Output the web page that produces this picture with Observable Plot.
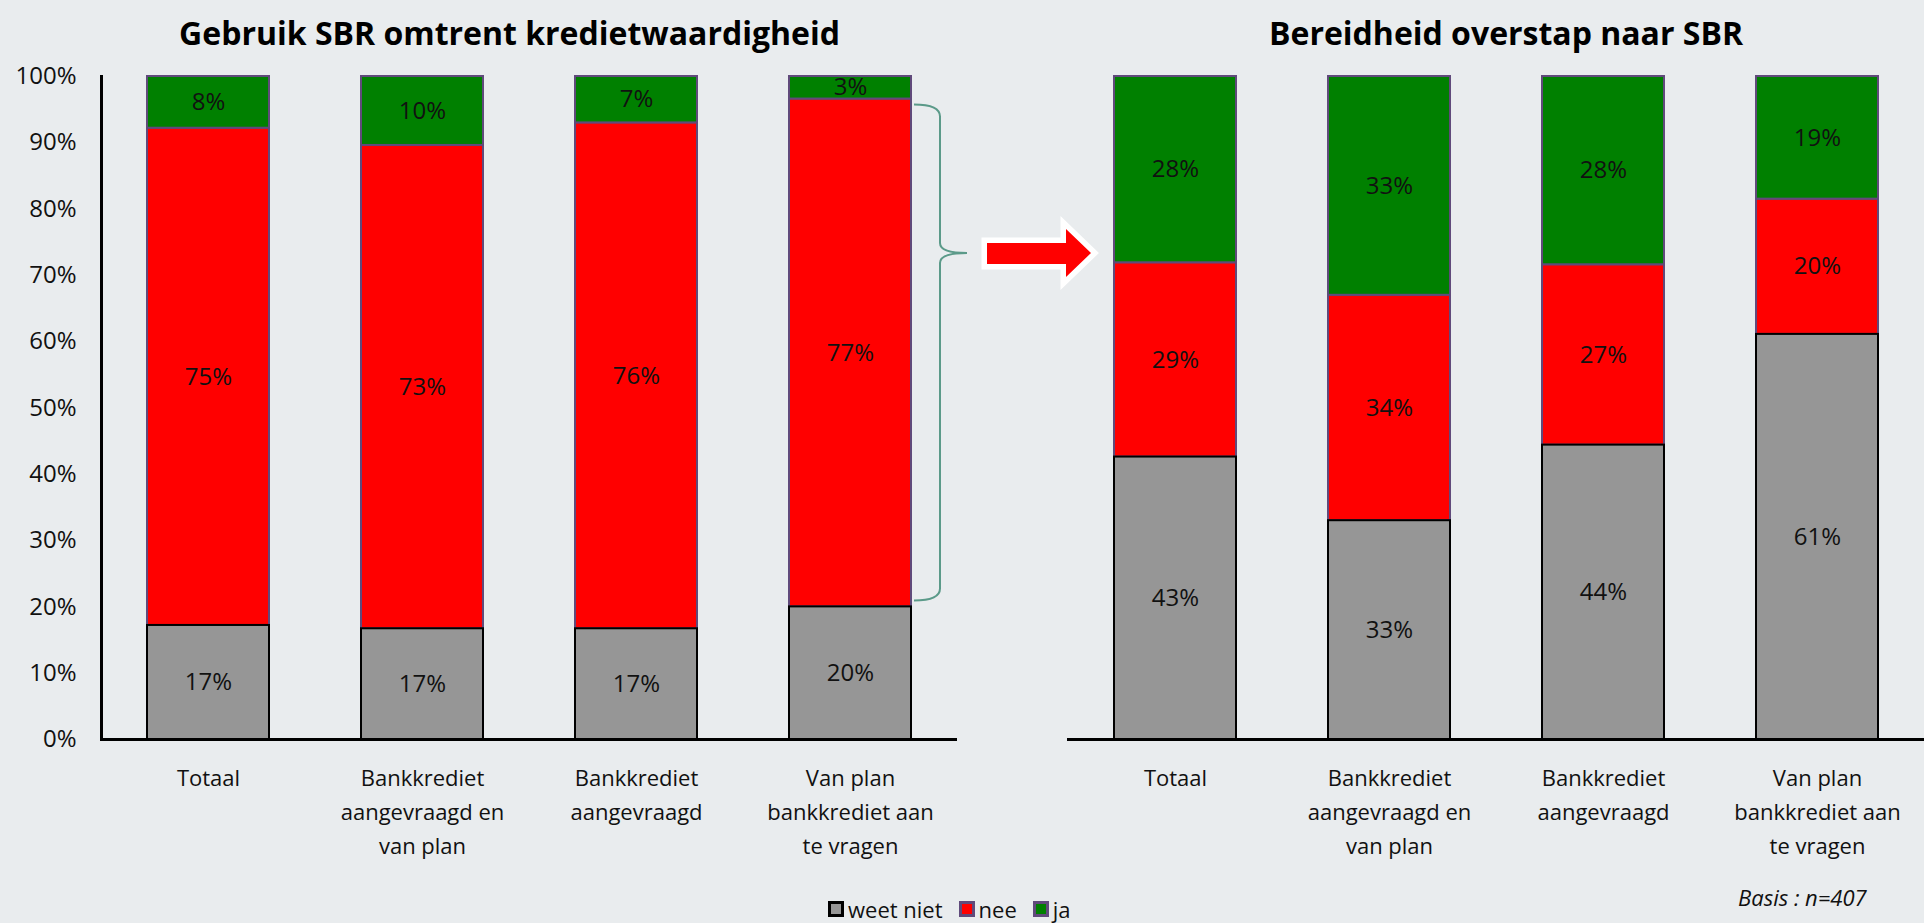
<!DOCTYPE html>
<html>
<head>
<meta charset="utf-8">
<script src="https://cdn.jsdelivr.net/npm/d3@7"></script>
<script src="https://cdn.jsdelivr.net/npm/@observablehq/plot@0.6"></script>
<style>
  html, body { margin: 0; padding: 0; background: #e9ecee; }
  #wrap { position: relative; width: 1924px; height: 923px; background: #e9ecee; font-family: "Open Sans", sans-serif; overflow: hidden; }
  #left, #right { position: absolute; top: 0; }
  #left { left: 0; }
  #right { left: 962px; }
  #overlay { position: absolute; left: 0; top: 0; pointer-events: none; }
  #legend { position: absolute; top: 896px; left: 828px; height: 26px; display: flex; align-items: center; font-size: 22px; line-height: 24px; color: #111; }
  #legend .item { display: flex; align-items: center; margin-right: 16px; }
  #legend .sw { width: 10px; height: 10px; border: 3px solid; margin-right: 4px; }
  #basis { position: absolute; top: 883px; left: 1738px; font-size: 22px; line-height: 28px; font-style: italic; color: #111; }
</style>
</head>
<body>
<div id="wrap">
  <div id="left"></div>
  <div id="right"></div>
  <svg id="overlay" width="1924" height="923"></svg>
  <div id="legend"></div>
  <div id="basis">Basis : n=407</div>
</div>
<script>
// ---- data ----
const categories = [
  "Totaal",
  "Bankkrediet aangevraagd en van plan",
  "Bankkrediet aangevraagd",
  "Van plan bankkrediet aan te vragen"
];
const categoryLabels = [
  "Totaal",
  "Bankkrediet\naangevraagd en\nvan plan",
  "Bankkrediet\naangevraagd",
  "Van plan\nbankkrediet aan\nte vragen"
];
const responses = ["weet niet", "nee", "ja"];
const responseColors = ["#969696", "#ff0000", "#008000"];
const responseBorders = ["#000000", "#604a7b", "#604a7b"];

const titleGebruik = "Gebruik SBR omtrent kredietwaardigheid";
const gebruikWeetNiet = [17.2, 16.7, 16.7, 20.0];
const gebruikNee      = [75.0, 72.9, 76.3, 76.6];
const gebruikJa       = [7.8, 10.4, 7.0, 3.4];

const titleBereid = "Bereidheid overstap naar SBR";
const bereidWeetNiet = [42.6, 33.0, 44.4, 61.1];
const bereidNee      = [29.3, 34.0, 27.2, 20.4];
const bereidJa       = [28.1, 33.0, 28.4, 18.5];

const yTicks = [0, 10, 20, 30, 40, 50, 60, 70, 80, 90, 100];
const basisText = "Basis : n=407";

// brace covers the "nee" segment of the last left bar; arrow level
const braceTop = 96.6, braceBottom = 20.0, arrowLevel = 73.3;

// ---- helpers ----
function rowsFrom(weetNiet, nee, ja) {
  const series = [weetNiet, nee, ja];
  const rows = [];
  responses.forEach((r, ri) => {
    categories.forEach((c, ci) => rows.push({cat: c, resp: r, value: series[ri][ci]}));
  });
  return rows;
}
const labelOf = c => categoryLabels[categories.indexOf(c)];

function chart(rows, title, showY, marginLeft, marginRight, titleDx) {
  const marks = [
    Plot.barY(rows, Plot.stackY({x: "cat", y: "value", z: "resp", fill: "resp", stroke: "#604a7b", strokeWidth: 2})),
    Plot.barY(rows.filter(d => d.resp === "weet niet"), {x: "cat", y: "value", fill: "#969696", stroke: "#000", strokeWidth: 2}),
    Plot.ruleY([0], {stroke: "#000", strokeWidth: 3}),
    Plot.text(rows, Plot.stackY({x: "cat", y: "value", z: "resp", text: d => Math.round(d.value) + "%", fontSize: 24, fill: "#111"})),
    Plot.axisX({tickSize: 0, tickPadding: 22, fontSize: 22, lineHeight: 1.55, tickFormat: labelOf, label: null, fill: "#111"}),
    Plot.text([title], {frameAnchor: "top", dy: -54, dx: titleDx, fontSize: 32, fontWeight: "bold", fill: "#000"})
  ];
  if (showY) {
    marks.push(Plot.axisY({ticks: yTicks, tickFormat: d => d + "%", tickSize: 0, tickPadding: 25, fontSize: 24, label: null, fill: "#111"}));
    marks.push(Plot.frame({anchor: "left", stroke: "#000", strokeWidth: 3}));
  }
  return Plot.plot({
    width: 962,
    height: 880,
    marginTop: 76,
    marginBottom: 141,
    marginLeft,
    marginRight,
    style: {background: "transparent", fontFamily: "Open Sans, sans-serif", overflow: "visible"},
    x: {domain: categories, paddingInner: 0.43, paddingOuter: 0.215, axis: null},
    y: {domain: [0, 100], axis: showY ? undefined : null},
    color: {domain: responses, range: responseColors},
    marks
  });
}

const left = chart(rowsFrom(gebruikWeetNiet, gebruikNee, gebruikJa), titleGebruik, true, 101, 5, -20);
const right = chart(rowsFrom(bereidWeetNiet, bereidNee, bereidJa), titleBereid, false, 105, 0, 10);
document.getElementById("left").appendChild(left);
document.getElementById("right").appendChild(right);

// ---- brace & arrow, positioned from the left chart's scales ----
const ys = left.scale("y"), xs = left.scale("x");
const barRight = xs.apply(categories[3]) + xs.bandwidth;
const yTop = ys.apply(braceTop) + 6, yBot = ys.apply(braceBottom) - 6, yTip = ys.apply(arrowLevel);
const x0 = barRight + 3, xv = barRight + 29, xt = barRight + 56;
const ov = d3.select("#overlay");
ov.append("path")
  .attr("d", `M${x0},${yTop} Q${xv},${yTop} ${xv},${yTop + 12} L${xv},${yTip - 10} Q${xv},${yTip} ${xt},${yTip} Q${xv},${yTip} ${xv},${yTip + 10} L${xv},${yBot - 12} Q${xv},${yBot} ${x0},${yBot}`)
  .attr("fill", "none").attr("stroke", "#5b9a89").attr("stroke-width", 2);
const ax = xt + 20;
const pts = [[ax, yTip - 10], [ax + 79, yTip - 10], [ax + 79, yTip - 24], [ax + 104, yTip], [ax + 79, yTip + 24], [ax + 79, yTip + 11], [ax, yTip + 11]];
ov.append("polygon").attr("points", pts.map(p => p.join(",")).join(" "))
  .attr("fill", "#ff0000").attr("stroke", "#ffffff").attr("stroke-width", 11)
  .attr("stroke-linejoin", "miter").attr("paint-order", "stroke");

// ---- legend & note ----
const lg = d3.select("#legend");
responses.forEach((r, i) => {
  const it = lg.append("div").attr("class", "item");
  it.append("div").attr("class", "sw").style("background", responseColors[i]).style("border-color", responseBorders[i]);
  it.append("span").text(r);
});
d3.select("#basis").text(basisText);
</script>
</body>
</html>
